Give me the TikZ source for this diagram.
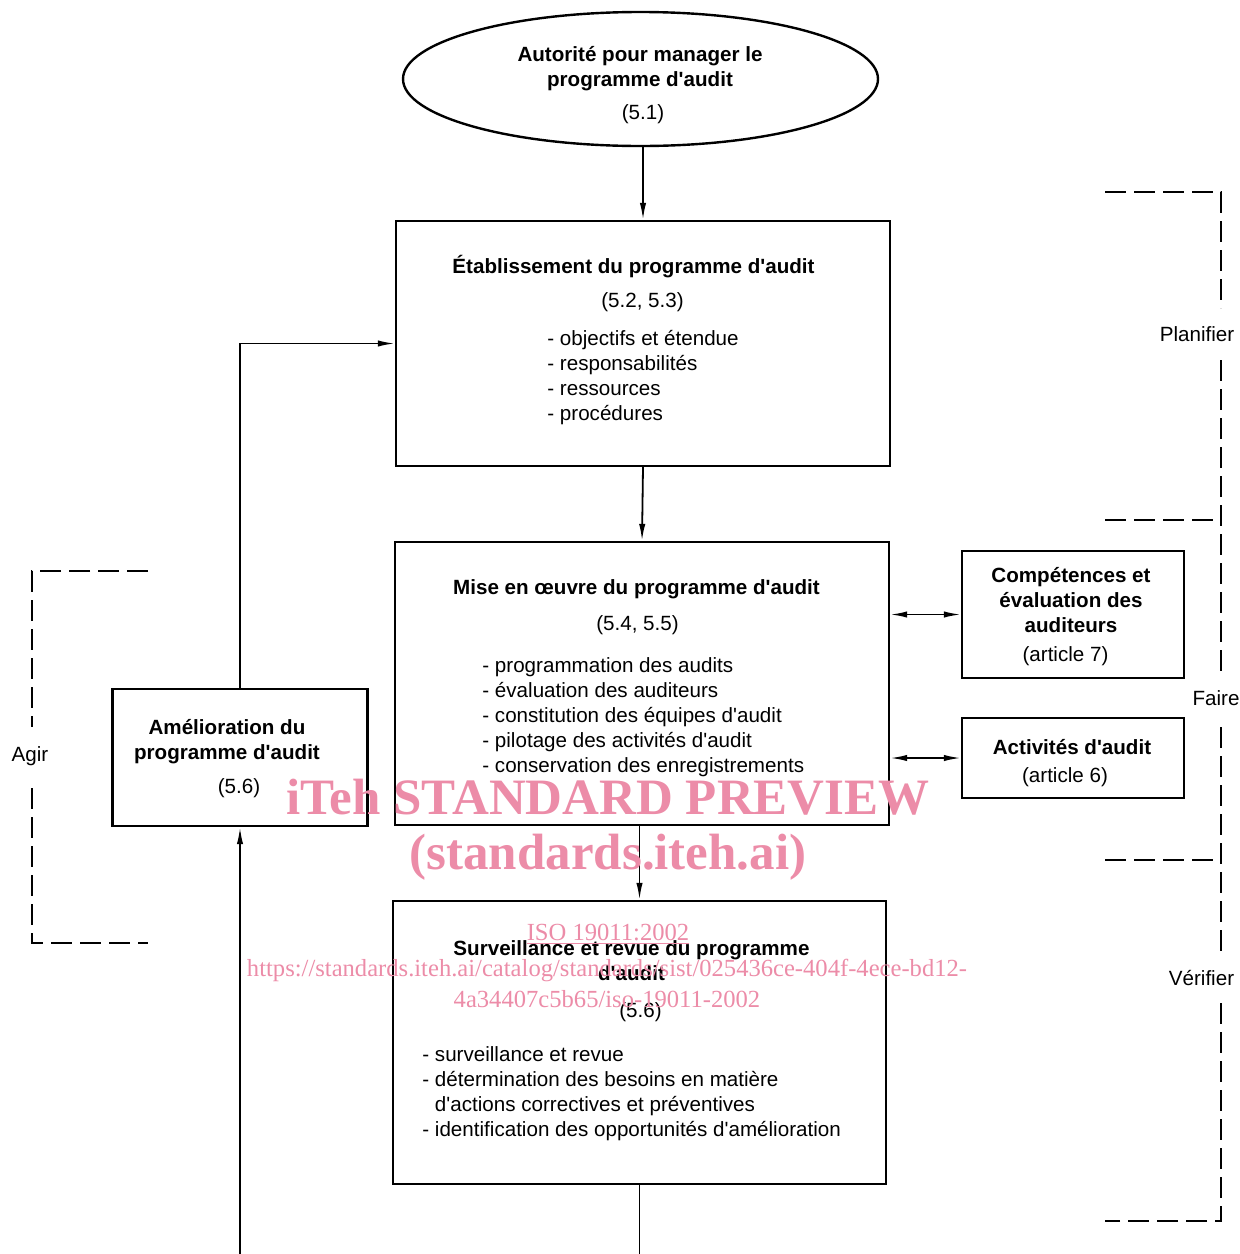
\documentclass[tikz,border=0pt]{standalone}
\usepackage{fontspec}
\setmainfont{Liberation Sans}[Ligatures=TeXOff]
\newfontfamily\wmfont{Liberation Serif}
\usepackage{xcolor}
\usepackage{tikz}
\usetikzlibrary{shapes.geometric,arrows.meta}
\definecolor{wmpink}{RGB}{236,140,168}

\begin{document}
\begin{tikzpicture}[
  x=0.5pt, y=-0.5pt,
  block/.style={rectangle, draw, line width=1.2pt, inner sep=0pt},
  txt/.style={font=\fontsize{10.3}{12.5}\selectfont, align=center, inner sep=0pt, yshift=-1pt},
  ttl/.style={font=\fontsize{10.3}{12.5}\selectfont\bfseries, align=center, inner sep=0pt, yshift=-1pt},
  lst/.style={txt, align=left, anchor=west},
  arrow/.style={-{Latex[length=8.5pt,width=3.2pt]}, line width=0.9pt},
  dblarrow/.style={{Latex[length=8.5pt,width=3.2pt]}-{Latex[length=8.5pt,width=3.2pt]}, line width=0.9pt},
  phase/.style={dash pattern=on 10.5pt off 4pt, line width=0.9pt},
  wm/.style={text=wmpink, inner sep=0pt}
]
\useasboundingbox (0,0) rectangle (1239,1254);

% Authority
\node[draw, ellipse, line width=1.2pt, minimum width=237.5pt, minimum height=67pt] (auth) at (640.5,79) {};
\node[ttl] (authT) at (640,66.5) {Autorité pour manager le\\programme d'audit};
\node[txt] (authR) at (643,112) {(5.1)};

% Establishment
\node[block, minimum width=247pt, minimum height=122.5pt] (etab) at (643,343.5) {};
\node[ttl] (etabT) at (633.5,265) {Établissement du programme d'audit};
\node[txt] (etabR) at (642.5,300) {(5.2, 5.3)};
\node[lst] (etabL) at (547,376) {- objectifs et étendue\\- responsabilités\\- ressources\\- procédures};

% Implementation
\node[block, minimum width=247pt, minimum height=141.5pt] (mise) at (642,683.5) {};
\node[ttl] (miseT) at (636.5,587) {Mise en œuvre du programme d'audit};
\node[txt] (miseR) at (637.5,623) {(5.4, 5.5)};
\node[lst] (miseL) at (482,715.5) {- programmation des audits\\- évaluation des auditeurs\\- constitution des équipes d'audit\\- pilotage des activités d'audit\\- conservation des enregistrements};

% Competence
\node[block, minimum width=111pt, minimum height=63.5pt] (comp) at (1073,614.5) {};
\node[ttl] (compT) at (1071,598) {Compétences et\\évaluation des\\auditeurs};
\node[txt] (compR) at (1065.5,654) {(article 7)};

% Activities
\node[block, minimum width=111pt, minimum height=40pt] (act) at (1073,758) {};
\node[ttl] (actT) at (1072,745) {Activités d'audit};
\node[txt] (actR) at (1065,775) {(article 6)};

% Monitoring
\node[block, minimum width=246.5pt, minimum height=141.5pt] (surv) at (639.5,1042.5) {};
\node[ttl] (survT) at (631.5,958.5) {Surveillance et revue du programme\\d'audit};
\node[txt] (survR) at (640.5,1010) {(5.6)};
\node[lst] (survL) at (422,1091.5) {- surveillance et revue\\- détermination des besoins en matière\\\phantom{-}\ d'actions correctives et préventives\\- identification des opportunités d'amélioration};

% Improvement
\node[block, minimum width=127.5pt, minimum height=68.5pt] (amel) at (240,757.5) {};
\node[ttl] (amelT) at (227,739.5) {Amélioration du\\programme d'audit};
\node[txt] (amelR) at (239,786) {(5.6)};

% Phase labels
\node[txt] (plan) at (1197,332) {Planifier};
\node[txt] (faire) at (1216,696) {Faire};
\node[txt] (verif) at (1201.5,976) {Vérifier};
\node[txt] (agir) at (30,754) {Agir};

% Brackets
\draw[phase] (1105,192) -- (1221,192) -- (1221,308);
\draw[phase] (1221,360) -- (1221,672);
\draw[phase] (1105,520) -- (1221,520);
\draw[phase] (1221,727) -- (1221,955);
\draw[phase] (1105,860) -- (1221,860);
\draw[phase] (1221,1003) -- (1221,1221) -- (1105,1221);
\draw[phase] (148,571) -- (32,571) -- (32,727);
\draw[phase] (32,788) -- (32,943) -- (148,943);

% Arrows
\draw[arrow] (auth.south -| etab.north) -- (etab.north);
\draw[arrow] (etab.south) -- (mise.north);
\draw[arrow] (mise.south -| surv.north) -- (surv.north);
\draw[dblarrow] (mise.east |- comp.west) -- (comp.west);
\draw[dblarrow] (mise.east |- act.west) -- (act.west);
\draw[arrow] (surv.south) -- ++(0,100) -| (amel.south);
\draw[arrow] (amel.north) |- (etab.west);

% Watermark
\node[wm, font=\wmfont\bfseries\fontsize{25.5}{30}\selectfont] (wm1) at (608,797) {iTeh STANDARD PREVIEW};
\node[wm, font=\wmfont\bfseries\fontsize{25.5}{30}\selectfont] (wm2) at (608,857) {(standards.iteh.ai)};
\node[wm, font=\wmfont\fontsize{12.3}{15.5}\selectfont] (wm3) at (608,934) {\underline{ISO 19011:2002}};
\node[wm, font=\wmfont\fontsize{12.3}{15.5}\selectfont, align=center] (wm4) at (607,983) {https://standards.iteh.ai/catalog/standards/sist/025436ce-404f-4ece-bd12-\\4a34407c5b65/iso-19011-2002};

\end{tikzpicture}
\end{document}
